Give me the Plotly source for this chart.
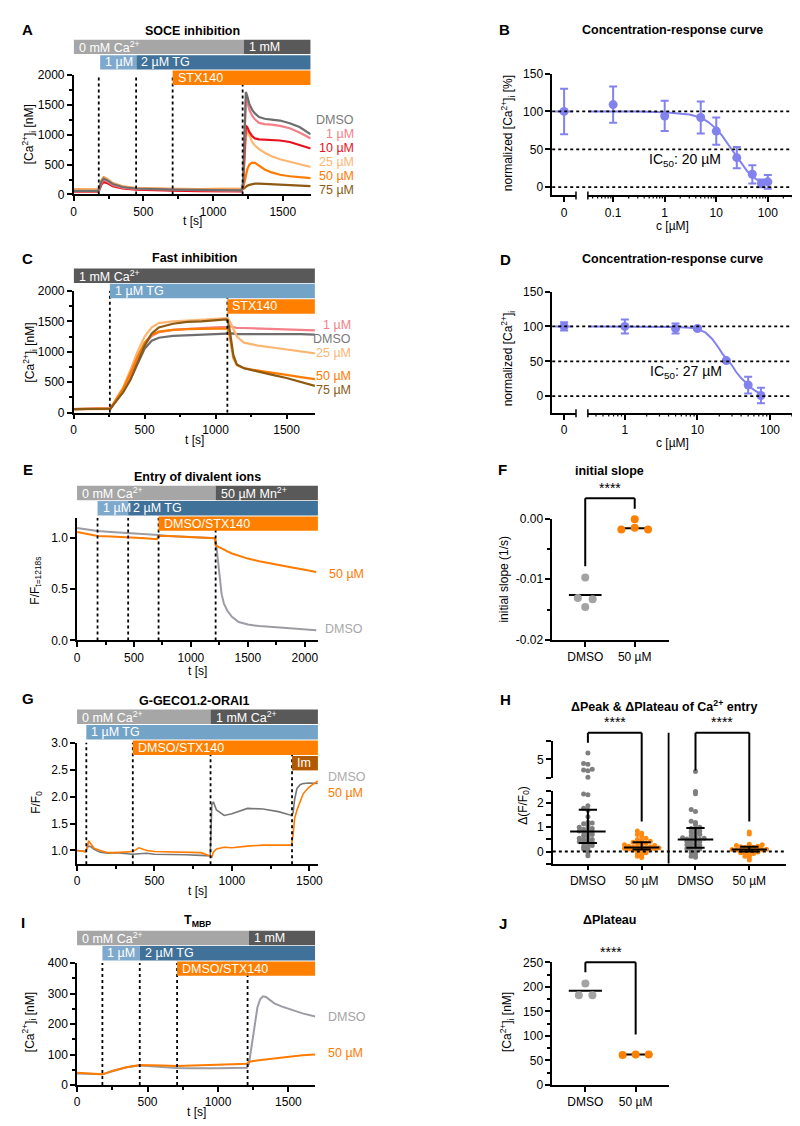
import plotly.graph_objects as go
import numpy as np

W, H = 800, 1126
FONT = "Liberation Sans, Arial, Helvetica, sans-serif"

# ======================= DATA =======================
# ---- Panel A : SOCE inhibition ----
a_t = [0, 100, 175, 185, 200, 215, 240, 280, 350, 445, 550, 710, 900, 1100, 1205,
       1215, 1225, 1235, 1245, 1260, 1280, 1300, 1330, 1370, 1420, 1480, 1550, 1620, 1700]
a_dmso = [60, 58, 60, 110, 220, 265, 240, 175, 125, 100, 90, 82, 75, 70, 68,
          200, 1000, 1720, 1650, 1520, 1420, 1360, 1300, 1270, 1255, 1240, 1195, 1130, 1010]
a_1um = [55, 55, 55, 100, 200, 245, 220, 160, 115, 92, 85, 78, 70, 65, 62,
         180, 900, 1600, 1550, 1420, 1320, 1260, 1200, 1180, 1170, 1150, 1110, 1040, 940]
a_10um = [45, 45, 45, 80, 170, 210, 190, 140, 100, 80, 70, 62, 55, 50, 50,
          150, 700, 1150, 1130, 1050, 980, 940, 925, 920, 915, 905, 880, 830, 770]
a_25um = [75, 72, 72, 120, 230, 280, 255, 185, 130, 105, 95, 88, 85, 85, 85,
          120, 500, 950, 1080, 1000, 880, 820, 760, 700, 640, 590, 550, 510, 460]
a_50um = [85, 80, 80, 130, 240, 290, 260, 190, 135, 108, 98, 92, 90, 90, 90,
          100, 200, 330, 420, 500, 535, 530, 480, 420, 370, 330, 305, 290, 275]
a_75um = [65, 62, 62, 110, 210, 255, 235, 170, 120, 95, 85, 80, 75, 75, 75,
          90, 110, 130, 145, 160, 175, 180, 180, 175, 168, 160, 150, 145, 140]
a_events = [180, 448, 710, 1212]
a_protocol = [("0 mM Ca<sup>2+</sup>", 0, 1220, 0, "gray"), ("1 mM", 1220, 1700, 0, "dark"),
              ("1 µM", 190, 450, 1, "lblue"), ("2 µM TG", 450, 1700, 1, "dblue"),
              ("STX140", 710, 1700, 2, "orange")]

# ---- Panel B : concentration-response (SOCE) ----
b_zero_y, b_zero_err = [100], [30]
b_c = [0.1, 1, 5, 10, 25, 50, 75, 100]
b_y = [109, 94, 92, 74, 39, 17, 5, 7]
b_err = [24, 20, 21, 18, 14, 12, 5, 9]
b_fit_c = [0.032, 0.1, 0.3, 1, 2, 3, 5, 7, 10, 13, 16, 20, 25, 30, 40, 50, 60, 75, 100]
b_fit_y = [100, 100, 99.8, 99, 97.5, 96, 92, 86, 77, 68, 59, 50, 40, 32, 21, 14, 10, 6, 3.5]

# ---- Panel C : fast inhibition ----
c_t = [0, 100, 250, 260, 300, 350, 400, 450, 500, 550, 600, 700, 800, 900, 1000, 1075, 1085,
       1100, 1125, 1150, 1200, 1300, 1400, 1500, 1600, 1700]
c_dmso = [60, 60, 60, 70, 200, 350, 550, 800, 1050, 1180, 1230, 1260, 1270, 1280, 1290, 1290, 1290,
          1290, 1300, 1290, 1290, 1300, 1300, 1290, 1290, 1280]
c_1um = [60, 60, 60, 70, 210, 380, 600, 870, 1120, 1260, 1320, 1360, 1380, 1390, 1400, 1400, 1410,
         1420, 1400, 1390, 1390, 1380, 1370, 1360, 1360, 1350]
c_25um = [60, 60, 60, 75, 230, 420, 700, 1000, 1250, 1400, 1470, 1500, 1510, 1520, 1530, 1540, 1550,
          1500, 1380, 1250, 1150, 1100, 1070, 1040, 1000, 975]
c_50um = [60, 60, 60, 70, 220, 400, 650, 920, 1150, 1280, 1330, 1360, 1370, 1380, 1380, 1380, 1380,
          1250, 900, 780, 730, 690, 660, 620, 585, 550]
c_75um = [60, 60, 60, 65, 190, 340, 540, 820, 1100, 1300, 1400, 1460, 1490, 1500, 1520, 1530, 1520,
          1350, 950, 790, 730, 670, 620, 570, 505, 440]
c_events = [255, 1083]
c_protocol = [("1 mM Ca<sup>2+</sup>", 0, 1700, 0, "dark"), ("1 µM TG", 255, 1700, 1, "lblue2"),
              ("STX140", 1083, 1700, 2, "orange")]

# ---- Panel D : concentration-response (fast) ----
d_zero_y, d_zero_err = [100], [6]
d_c = [1, 5, 10, 25, 50, 75]
d_y = [100, 97, 97, 51, 16, 1]
d_err = [10, 7, 2, 2, 12, 11]
d_fit_c = [0.31, 1, 2, 5, 8, 10, 13, 16, 20, 22, 25, 27, 30, 34, 40, 46, 55, 63, 75]
d_fit_y = [100, 100, 99.8, 99, 98, 96.5, 91, 82, 68, 61, 54, 50, 44, 35, 26, 20, 12, 7.5, 3]

# ---- Panel E : Mn2+ quench ----
e_t = [0, 100, 180, 300, 449, 600, 700, 716, 800, 1000, 1210, 1218, 1230, 1250, 1270, 1290,
       1320, 1360, 1420, 1500, 1600, 1750, 1900, 2000, 2100]
e_dmso = [1.10, 1.08, 1.07, 1.06, 1.05, 1.04, 1.035, 1.03, 1.02, 1.01, 1.0, 0.98, 0.85, 0.62,
          0.45, 0.36, 0.29, 0.23, 0.18, 0.155, 0.14, 0.13, 0.12, 0.11, 0.10]
e_50um = [1.06, 1.04, 1.02, 1.015, 1.01, 1.0, 0.99, 1.02, 1.02, 1.01, 1.0, 0.93, 0.92, 0.91,
          0.90, 0.885, 0.87, 0.85, 0.83, 0.80, 0.775, 0.74, 0.71, 0.69, 0.67]
e_events = [180, 449, 716, 1217]
e_protocol = [("0 mM Ca<sup>2+</sup>", 0, 1217, 0, "gray"), ("50 µM Mn<sup>2+</sup>", 1217, 2115, 0, "dark"),
              ("1 µM", 180, 449, 1, "lblue"), ("2 µM TG", 449, 2115, 1, "dblue"),
              ("DMSO/STX140", 716, 2115, 2, "orange")]

# ---- Panel F : initial slope ----
f_cats = ["DMSO", "50 µM"]
f_dmso = [-0.0097, -0.0131, -0.0133, -0.0146]
f_50um = [-0.0001, -0.0015, -0.0018, -0.0018]
f_mean = [-0.0126, -0.0016]
f_dmso_jit = [0, -0.15, 0.15, 0]
f_50um_jit = [0, 0, -0.27, 0.27]

# ---- Panel G : G-GECO1.2-ORAI1 ----
g_t = [0, 55, 65, 75, 90, 110, 150, 200, 250, 300, 360, 400, 450, 500, 600, 700, 800, 860, 870,
       880, 900, 950, 1000, 1100, 1200, 1300, 1385, 1395, 1405, 1420, 1440, 1460, 1500, 1555]
g_dmso = [1.0, 0.98, 1.05, 1.08, 1.07, 1.02, 0.97, 0.95, 0.96, 0.94, 0.93, 0.94, 0.95, 0.93, 0.93,
          0.92, 0.91, 0.9, 1.85, 1.9, 1.75, 1.65, 1.68, 1.78, 1.77, 1.72, 1.65, 1.7, 1.95, 2.15,
          2.22, 2.24, 2.25, 2.24]
g_50um = [1.0, 0.98, 1.05, 1.18, 1.12, 1.04, 1.0, 0.96, 0.96, 0.97, 0.98, 1.05, 1.0, 0.98, 0.97,
          0.96, 0.96, 0.9, 0.87, 0.97, 1.03, 1.06, 1.05, 1.08, 1.1, 1.1, 1.1, 1.3, 1.6, 1.75,
          1.92, 2.05, 2.18, 2.29]
g_events = [60, 360, 862, 1388]
g_protocol = [("0 mM Ca<sup>2+</sup>", 0, 862, 0, "gray"), ("1 mM Ca<sup>2+</sup>", 862, 1555, 0, "dark"),
              ("1 µM TG", 60, 1555, 1, "lblue2"), ("DMSO/STX140", 360, 1555, 2, "orange"),
              ("Im", 1388, 1555, 3, "brown")]

# ---- Panel H : dPeak & dPlateau ----
h_cats = ["DMSO", "50 µM", "DMSO", "50 µM"]
h_peak_dmso = [5.35, 4.79, 4.74, 4.47, 4.44, 4.40, 4.05, 2.37, 2.34, 1.89, 1.78, 1.70, 1.43, 1.21,
               1.18, 1.15, 1.05, 1.0, 0.95, 0.92, 0.9, 0.85, 0.82, 0.8, 0.75, 0.7, 0.65, 0.6, 0.55,
               0.5, 0.48, 0.45, 0.4, 0.38, 0.35, 0.3, 0.25, 0.2, 0.15, 0.1, 0.05, -0.05, -0.18]
h_peak_50 = [0.85, 0.75, 0.7, 0.62, 0.55, 0.5, 0.45, 0.42, 0.38, 0.35, 0.32, 0.3, 0.28, 0.25, 0.22,
             0.2, 0.18, 0.17, 0.16, 0.15, 0.14, 0.13, 0.12, 0.1, 0.08, 0.06, 0.05, 0.03, 0.0, -0.05,
             -0.1, -0.15, -0.2, -0.25]
h_plat_dmso = [4.35, 2.48, 2.38, 1.73, 1.65, 1.25, 1.2, 1.1, 1.0, 0.95, 0.9, 0.85, 0.8, 0.75, 0.7,
               0.65, 0.6, 0.57, 0.55, 0.52, 0.5, 0.48, 0.45, 0.42, 0.4, 0.35, 0.3, 0.28, 0.25, 0.2,
               0.15, 0.12, 0.1, 0.05, 0.0, -0.05, -0.12, -0.2, -0.24]
h_plat_50 = [0.8, 0.72, 0.3, 0.28, 0.25, 0.22, 0.2, 0.18, 0.17, 0.15, 0.14, 0.13, 0.12, 0.1, 0.1,
             0.09, 0.08, 0.07, 0.06, 0.05, 0.04, 0.03, 0.02, 0.0, -0.02, -0.05, -0.08, -0.1, -0.15,
             -0.2, -0.25, -0.35]
h_median = [0.83, 0.16, 0.5, 0.08]
h_low = [0.35, 0.08, 0.15, 0.0]
h_high = [1.72, 0.38, 0.97, 0.2]

# ---- Panel I : T_MBP ----
i_t = [0, 100, 180, 250, 350, 445, 500, 600, 710, 800, 900, 1000, 1100, 1205, 1220, 1240, 1260,
       1280, 1300, 1320, 1340, 1360, 1400, 1450, 1500, 1550, 1600, 1690]
i_dmso = [38, 37, 35, 45, 58, 64, 62, 58, 56, 55, 54, 55, 56, 57, 70, 130, 200, 255, 282, 291, 289,
          282, 268, 258, 250, 242, 235, 225]
i_50um = [40, 38, 35, 46, 58, 66, 66, 64, 62, 63, 64, 66, 68, 70, 76, 78, 80, 81, 82, 83, 84, 85,
          88, 91, 94, 96, 98, 100]
i_events = [180, 445, 710, 1210]
i_protocol = [("0 mM Ca<sup>2+</sup>", 0, 1220, 0, "gray"), ("1 mM", 1220, 1690, 0, "dark"),
              ("1 µM", 180, 445, 1, "lblue"), ("2 µM TG", 445, 1690, 1, "dblue"),
              ("DMSO/STX140", 710, 1690, 2, "orange")]

# ---- Panel J : dPlateau ----
j_cats = ["DMSO", "50 µM"]
j_dmso = [207, 183, 183]
j_50um = [61, 62, 62]
j_mean = [192, 62]
j_dmso_jit = [0, -0.13, 0.14]
j_50um_jit = [-0.26, 0, 0.26]

# ======================= STYLE =======================
COL = dict(dmso="#6e6e6e", um1="#f47f88", um10="#e8101c", um25="#fdb572", um50="#ff7b00",
           um75="#8c5a12", crc="#8282ef", dmso_light="#9c9ca4", dmso_g="#777777",
           dot_gray="#a3a3a3", dot_orange="#ff8000", hgray="#7f7f7f", horange="#ff8a12")
BARCOL = dict(gray="#a6a6a6", dark="#595959", lblue="#7fa9cc", dblue="#3f7199",
              lblue2="#73a3c7", orange="#ff8000", brown="#b35a00")

def fx(px):
    return px / W

def fy(py):
    return 1 - py / H

fig = go.Figure()
axes = {}
shapes = []
anns = []

BASE = dict(showline=True, linecolor="black", linewidth=1.5, ticks="outside", ticklen=5,
            tickwidth=1.5, tickcolor="black", showgrid=False, zeroline=False,
            tickfont=dict(size=12, color="black", family=FONT), layer="above traces")

def xname(n):
    return "x" if n == 1 else f"x{n}"

def yname(n):
    return "y" if n == 1 else f"y{n}"

def xax(n, x0, x1, rng, anchor, **kw):
    d = dict(BASE)
    d.update(domain=[fx(x0), fx(x1)], range=rng, anchor=yname(anchor))
    d.update(kw)
    axes["xaxis" if n == 1 else f"xaxis{n}"] = d

def yax(n, ytop, ybot, rng, anchor, **kw):
    d = dict(BASE)
    d.update(domain=[fy(ybot), fy(ytop)], range=rng, anchor=xname(anchor))
    d.update(kw)
    axes["yaxis" if n == 1 else f"yaxis{n}"] = d

def ann(text, x, y, size=12, color="black", xanchor="center", yanchor="middle",
        xref="paper", yref="paper", angle=0, bold=False, xshift=0):
    if bold:
        text = f"<b>{text}</b>"
    anns.append(dict(text=text, x=x, y=y, xref=xref, yref=yref, showarrow=False,
                     xanchor=xanchor, yanchor=yanchor, textangle=angle, xshift=xshift,
                     font=dict(size=size, color=color, family=FONT)))

def line(xs, ys, xa, ya, color, width=2):
    fig.add_trace(go.Scatter(x=xs, y=ys, mode="lines", xaxis=xname(xa), yaxis=yname(ya),
                             line=dict(color=color, width=width), showlegend=False,
                             hoverinfo="skip"))

def pshape(x0, y0, x1, y1, xref="paper", color="black", width=1.8, dash=None):
    if xref == "paper":
        x0, x1 = fx(x0), fx(x1)
    ln = dict(color=color, width=width)
    if dash:
        ln["dash"] = dash
    shapes.append(dict(type="line", xref=xref, yref="paper", x0=x0, x1=x1, y0=fy(y0), y1=fy(y1),
                       line=ln))

def protocol(items, xa, rows, h=14.6):
    for label, t0, t1, row, ck in items:
        top = rows[row]
        shapes.append(dict(type="rect", xref=xname(xa), yref="paper", x0=t0, x1=t1,
                           y0=fy(top + h), y1=fy(top), fillcolor=BARCOL[ck],
                           line=dict(width=0), layer="above"))
        ann(label, t0, fy(top + h / 2), size=12.5, color="white", xanchor="left",
            xref=xname(xa), xshift=3)

def events(ev, xa, ya, y0, y1):
    for t in ev:
        shapes.append(dict(type="line", xref=xname(xa), yref=yname(ya), x0=t, x1=t, y0=y0, y1=y1,
                           line=dict(color="black", width=1.8, dash="dot"), layer="above"))

MINOR = dict(ticks="outside", ticklen=3, tickwidth=1.5, tickcolor="black")

# ======================= PANEL A =======================
xax(1, 63.3, 302.7, [0, 1700], 1, tickvals=[0, 500, 1000, 1500], minor=dict(MINOR, dtick=250))
yax(1, 61, 181.7, [0, 2000], 1, tickvals=[0, 500, 1000, 1500, 2000], minor=dict(MINOR, dtick=250))
events(a_events, 1, 1, 0, 2000)
for ys, c in [(a_75um, COL["um75"]), (a_50um, COL["um50"]), (a_25um, COL["um25"]),
              (a_10um, COL["um10"]), (a_1um, COL["um1"]), (a_dmso, COL["dmso"])]:
    line(a_t, ys, 1, 1, c, 2.2)
protocol(a_protocol, 1, [25, 40.7, 56.3])
for txt, py, c in [("DMSO", 106.7, "#7a7a7a"), ("1 µM", 120.7, COL["um1"]), ("10 µM", 135, COL["um10"]),
                   ("25 µM", 148.5, COL["um25"]), ("50 µM", 162.7, COL["um50"]), ("75 µM", 176.7, COL["um75"])]:
    ann(txt, fx(348), fy(py), size=12.5, color=c, xanchor="right")
ann("SOCE inhibition", fx(183), fy(16.5), size=12.5, bold=True)
ann("t [s]", fx(183), fy(209), size=12)
ann("[Ca<sup>2+</sup>]<sub>i</sub> [nM]", fx(19), fy(121), size=12, angle=-90)

# ======================= PANEL B / D =======================
def crc_panel(nz, nl, ny, ytop, ybot, yrng, logrng, logticks, zy, zerr, cc, cy, cerr, fc, fyv,
              ic_text, ic_xy, ylab, ylab_y, title, title_y, xlab_y):
    xax(nz, 546.7, 570.7, [-1, 1], ny, tickvals=[0], ticktext=["0"])
    xax(nl, 582.7, 790, logrng, ny, type="log", tickvals=logticks,
        ticktext=[f"{v:g}" for v in logticks])
    yax(ny, ytop, ybot, yrng, nz, tickvals=[0, 50, 100, 150])
    lo, hi = 10 ** logrng[0], 10 ** logrng[1]
    for dec in [0.01, 0.1, 1, 10, 100]:
        for k in range(2, 10):
            v = k * dec
            if lo < v < hi:
                shapes.append(dict(type="line", xref=xname(nl), yref="paper", x0=v, x1=v,
                                   y0=fy(ybot), y1=fy(ybot + 3.2),
                                   line=dict(color="black", width=1.2)))
    for v in [0, 50, 100]:
        shapes.append(dict(type="line", xref="paper", yref=yname(ny), x0=fx(546.7), x1=fx(788),
                           y0=v, y1=v, line=dict(color="black", width=1.8, dash="dot")))
    line([-0.75, 0.75], [fyv[0], fyv[0]], nz, ny, COL["crc"], 2)
    line(fc, fyv, nl, ny, COL["crc"], 2)
    mk = dict(color=COL["crc"], size=9)
    eb = dict(type="data", visible=True, color=COL["crc"], thickness=2, width=4)
    fig.add_trace(go.Scatter(x=[0], y=zy, mode="markers", xaxis=xname(nz), yaxis=yname(ny),
                             marker=mk, error_y=dict(eb, array=zerr), showlegend=False,
                             cliponaxis=False))
    fig.add_trace(go.Scatter(x=cc, y=cy, mode="markers", xaxis=xname(nl), yaxis=yname(ny),
                             marker=mk, error_y=dict(eb, array=cerr), showlegend=False,
                             cliponaxis=False))
    ann(ic_text, fx(ic_xy[0]), fy(ic_xy[1]), size=14)
    ann(ylab, fx(501.7), fy(ylab_y), size=12, angle=-90)
    ann(title, fx(668), fy(title_y), size=12.5, bold=True)
    ann("c [µM]", fx(668), fy(xlab_y), size=12)
    pshape(570.7, ybot - 4, 570.7, ybot + 4, width=1.5)
    pshape(582.7, ybot - 4, 582.7, ybot + 4, width=1.5)

crc_panel(2, 3, 2, 59.3, 182.7, [-10.9, 150], [-1.49, 2.49], [0.1, 1, 10, 100],
          b_zero_y, b_zero_err, b_c, b_y, b_err, b_fit_c, b_fit_y,
          "IC<sub>50</sub>: 20 µM", (681, 146.7), "normalized [Ca<sup>2+</sup>]<sub>i</sub> [%]", 120,
          "Concentration-response curve", 15, 214)

# ======================= PANEL C =======================
xax(4, 63.3, 307, [0, 1700], 4, tickvals=[0, 500, 1000, 1500], minor=dict(MINOR, dtick=250))
yax(4, 279.3, 402.7, [0, 2000], 4, tickvals=[0, 500, 1000, 1500, 2000], minor=dict(MINOR, dtick=250))
events(c_events, 4, 4, 0, 2000)
for ys, c in [(c_dmso, COL["dmso"]), (c_1um, COL["um1"]), (c_25um, COL["um25"]),
              (c_50um, COL["um50"]), (c_75um, COL["um75"])]:
    line(c_t, ys, 4, 4, c, 2.2)
protocol(c_protocol, 4, [256.7, 272.2, 287.8])
for txt, py, c in [("1 µM", 314, COL["um1"]), ("DMSO", 328.3, "#7a7a7a"), ("25 µM", 342.7, COL["um25"]),
                   ("50 µM", 366, COL["um50"]), ("75 µM", 379.3, COL["um75"])]:
    ann(txt, fx(345), fy(py), size=12.5, color=c, xanchor="right")
ann("Fast inhibition", fx(185), fy(246), size=12.5, bold=True)
ann("t [s]", fx(185), fy(430), size=12)
ann("[Ca<sup>2+</sup>]<sub>i</sub> [nM]", fx(19), fy(342), size=12, angle=-90)

# ======================= PANEL D =======================
crc_panel(5, 6, 5, 280, 403.3, [-24.5, 150], [-0.509, 2.318], [1, 10, 100],
          d_zero_y, d_zero_err, d_c, d_y, d_err, d_fit_c, d_fit_y,
          "IC<sub>50</sub>: 27 µM", (681.7, 361.7), "normalized [Ca<sup>2+</sup>]<sub>i</sub>", 348,
          "Concentration-response curve", 247.3, 433)

# ======================= PANEL E =======================
xax(7, 66.7, 310, [0, 2115], 7, tickvals=[0, 500, 1000, 1500, 2000], minor=dict(MINOR, dtick=250))
yax(7, 509, 633.3, [0, 1.2], 7, tickvals=[0, 0.5, 1.0], tickformat=".1f")
events(e_events, 7, 7, 0, 1.2)
line(e_t, e_dmso, 7, 7, COL["dmso_light"], 2)
line(e_t, e_50um, 7, 7, COL["um50"], 2)
protocol(e_protocol, 7, [476.7, 492.2, 507.7])
ann("50 µM", fx(319), fy(566), size=12.5, color=COL["um50"], xanchor="left")
ann("DMSO", fx(315), fy(621.7), size=12.5, color="#a8a8a8", xanchor="left")
ann("Entry of divalent ions", fx(188), fy(467.7), size=12.5, bold=True)
ann("t [s]", fx(188), fy(664), size=12)
ann("F/F<sub>t=1218s</sub>", fx(25), fy(573), size=12, angle=-90)

# ======================= PANEL F =======================
xax(8, 546.7, 665, [-0.667, 1.7], 8, tickvals=[0, 1], ticktext=f_cats)
yax(8, 510, 632.7, [-0.02, 0], 8, tickvals=[-0.02, -0.01, 0], ticktext=["-0.02", "-0.01", "0.00"],
    minor=dict(MINOR, dtick=0.005))
for i, m in enumerate(f_mean):
    line([i - 0.33, i + 0.33], [m, m], 8, 8, "black", 2)
fig.add_trace(go.Scatter(x=[0 + j for j in f_dmso_jit], y=f_dmso, mode="markers", xaxis="x8",
                         yaxis="y8", marker=dict(color=COL["dot_gray"], size=8),
                         showlegend=False, cliponaxis=False))
fig.add_trace(go.Scatter(x=[1 + j for j in f_50um_jit], y=f_50um, mode="markers", xaxis="x8",
                         yaxis="y8", marker=dict(color=COL["dot_orange"], size=8),
                         showlegend=False, cliponaxis=False))
pshape(0, 558.3, 0, 489.3, xref="x8", width=2)
pshape(0, 489.3, 1, 489.3, xref="x8", width=2)
pshape(1, 489.3, 1, 500, xref="x8", width=2)
ann("****", 0.5, fy(479), size=14, xref="x8")
ann("initial slope", fx(605), fy(461.7), size=12.5, bold=True)
ann("initial slope (1/s)", fx(498), fy(571.7), size=12, angle=-90)

# ======================= PANEL G =======================
xax(9, 66.7, 310, [0, 1555], 9, tickvals=[0, 500, 1000, 1500], minor=dict(MINOR, dtick=250))
yax(9, 736.7, 860, [0.744, 3.0], 9, tickvals=[1.0, 1.5, 2.0, 2.5, 3.0], tickformat=".1f")
events(g_events, 9, 9, 0.744, 3.0)
line(g_t, g_dmso, 9, 9, COL["dmso_g"], 1.6)
line(g_t, g_50um, 9, 9, COL["um50"], 1.6)
protocol(g_protocol, 9, [703.3, 719, 734.7, 750.3])
ann("DMSO", fx(318), fy(771.7), size=12.5, color="#ababab", xanchor="left")
ann("50 µM", fx(318), fy(787.3), size=12.5, color=COL["um50"], xanchor="left")
ann("G-GECO1.2-ORAI1", fx(185), fy(695), size=12.5, bold=True)
ann("t [s]", fx(188), fy(887), size=12)
ann("F/F<sub>0</sub>", fx(26), fy(797), size=12, angle=-90)

# ======================= PANEL H =======================
xax(10, 547.3, 782.7, [-0.652, 3.68], 10, tickvals=[0, 1, 2, 3], ticktext=h_cats)
yax(10, 785.7, 859.3, [-0.5, 2.5], 10, tickvals=[0, 1, 2],
    minor=dict(MINOR, ticklen=5, dtick=0.5))
yax(11, 735, 772.7, [4, 6], 10, tickvals=[4, 5, 6], ticktext=["", "5", ""])

SLOTS = [0, -1, 1, -2, 2, -3, 3, -4, 4]

def swarm(vals, binw, step):
    # deterministic scatter layout: points sharing a value band are placed side by side
    order = sorted(range(len(vals)), key=lambda k: vals[k])
    counts = {}
    offs = [0.0] * len(vals)
    for k in order:
        b = int(np.floor(vals[k] / binw))
        n = counts.get(b, 0)
        counts[b] = n + 1
        offs[k] = SLOTS[n % len(SLOTS)] * step + (0.04 if n >= len(SLOTS) else 0)
    return offs

for gi, (vals, col) in enumerate([(h_peak_dmso, COL["hgray"]), (h_peak_50, COL["horange"]),
                                  (h_plat_dmso, COL["hgray"]), (h_plat_50, COL["horange"])]):
    offs = swarm(vals, 0.15, 0.08)
    lo_x = [gi + o for o, v in zip(offs, vals) if v <= 3]
    lo_y = [v for v in vals if v <= 3]
    hi_x = [gi + o for o, v in zip(offs, vals) if v > 3]
    hi_y = [v for v in vals if v > 3]
    fig.add_trace(go.Scatter(x=lo_x, y=lo_y, mode="markers", xaxis="x10", yaxis="y10",
                             marker=dict(color=col, size=5), showlegend=False, cliponaxis=False))
    if hi_y:
        fig.add_trace(go.Scatter(x=hi_x, y=hi_y, mode="markers", xaxis="x10", yaxis="y11",
                                 marker=dict(color=col, size=5), showlegend=False, cliponaxis=False))
for gi in range(4):
    line([gi - 0.33, gi + 0.33], [h_median[gi]] * 2, 10, 10, "black", 2)
    line([gi, gi], [h_low[gi], h_high[gi]], 10, 10, "black", 2)
    line([gi - 0.17, gi + 0.17], [h_low[gi]] * 2, 10, 10, "black", 2)
    line([gi - 0.17, gi + 0.17], [h_high[gi]] * 2, 10, 10, "black", 2)
shapes.append(dict(type="line", xref="paper", yref="y10", x0=fx(547.3), x1=fx(782.7), y0=0, y1=0,
                   line=dict(color="black", width=1.8, dash="dot")))
pshape(1.5, 726.7, 1.5, 859.3, xref="x10", width=1.8)
pshape(0, 737, 0, 726.7, xref="x10", width=2)
pshape(0, 726.7, 1, 726.7, xref="x10", width=2)
pshape(1, 726.7, 1, 816.7, xref="x10", width=2)
pshape(2, 765, 2, 726.7, xref="x10", width=2)
pshape(2, 726.7, 3, 726.7, xref="x10", width=2)
pshape(3, 726.7, 3, 816.7, xref="x10", width=2)
ann("****", 0.5, fy(716), size=14, xref="x10")
ann("****", 2.5, fy(716), size=14, xref="x10")
ann("ΔPeak & ΔPlateau of Ca<sup>2+</sup> entry", fx(660), fy(700), size=12.5, bold=True)
ann("Δ(F/F<sub>0</sub>)", fx(518), fy(800), size=12, angle=-90)

# ======================= PANEL I =======================
xax(12, 66.7, 307.3, [0, 1690], 12, tickvals=[0, 500, 1000, 1500], minor=dict(MINOR, dtick=250))
yax(12, 960, 1083.5, [0, 400], 12, tickvals=[0, 100, 200, 300, 400], minor=dict(MINOR, dtick=50))
events(i_events, 12, 12, 0, 400)
line(i_t, i_dmso, 12, 12, COL["dmso_light"], 2)
line(i_t, i_50um, 12, 12, COL["um50"], 2)
protocol(i_protocol, 12, [927.3, 942.8, 958.3])
ann("DMSO", fx(318), fy(1014.3), size=12.5, color="#a3a3a3", xanchor="left")
ann("50 µM", fx(318), fy(1051), size=12.5, color=COL["um50"], xanchor="left")
ann("T<sub>MBP</sub>", fx(188), fy(917), size=12.5, bold=True)
ann("t [s]", fx(187), fy(1111), size=12)
ann("[Ca<sup>2+</sup>]<sub>i</sub> [nM]", fx(19), fy(1020), size=12, angle=-90)

# ======================= PANEL J =======================
xax(13, 546.7, 665, [-0.659, 1.67], 13, tickvals=[0, 1], ticktext=j_cats)
yax(13, 959.3, 1083.3, [0, 250], 13, tickvals=[0, 50, 100, 150, 200, 250],
    minor=dict(MINOR, dtick=25))
for i, m in enumerate(j_mean):
    line([i - 0.33, i + 0.33], [m, m], 13, 13, "black", 2)
fig.add_trace(go.Scatter(x=[0 + j for j in j_dmso_jit], y=j_dmso, mode="markers", xaxis="x13",
                         yaxis="y13", marker=dict(color=COL["dot_gray"], size=8),
                         showlegend=False, cliponaxis=False))
fig.add_trace(go.Scatter(x=[1 + j for j in j_50um_jit], y=j_50um, mode="markers", xaxis="x13",
                         yaxis="y13", marker=dict(color=COL["dot_orange"], size=8),
                         showlegend=False, cliponaxis=False))
pshape(0, 969.3, 0, 959.3, xref="x13", width=2)
pshape(0, 959.3, 1, 959.3, xref="x13", width=2)
pshape(1, 959.3, 1, 1032.3, xref="x13", width=2)
ann("****", 0.5, fy(949), size=14, xref="x13")
ann("ΔPlateau", fx(605), fy(916.7), size=12.5, bold=True)
ann("[Ca<sup>2+</sup>]<sub>i</sub> [nM]", fx(501.7), fy(1020), size=12, angle=-90)

# ======================= PANEL LETTERS =======================
for L, x, y in [("A", 16.7, 15), ("B", 498.5, 15), ("C", 16.7, 246.7), ("D", 499.5, 247.3),
                ("E", 16.7, 460.7), ("F", 496.7, 460), ("G", 16.7, 692.3), ("H", 499, 692.7),
                ("I", 12.5, 919.3), ("J", 496.7, 920)]:
    ann(L, fx(x), fy(y), size=15, bold=True)

fig.update_layout(width=W, height=H, margin=dict(l=0, r=0, t=0, b=0), plot_bgcolor="white",
                  paper_bgcolor="white", showlegend=False, shapes=shapes, annotations=anns,
                  font=dict(family=FONT, size=12, color="black"), **axes)
fig.write_html("out.html")
